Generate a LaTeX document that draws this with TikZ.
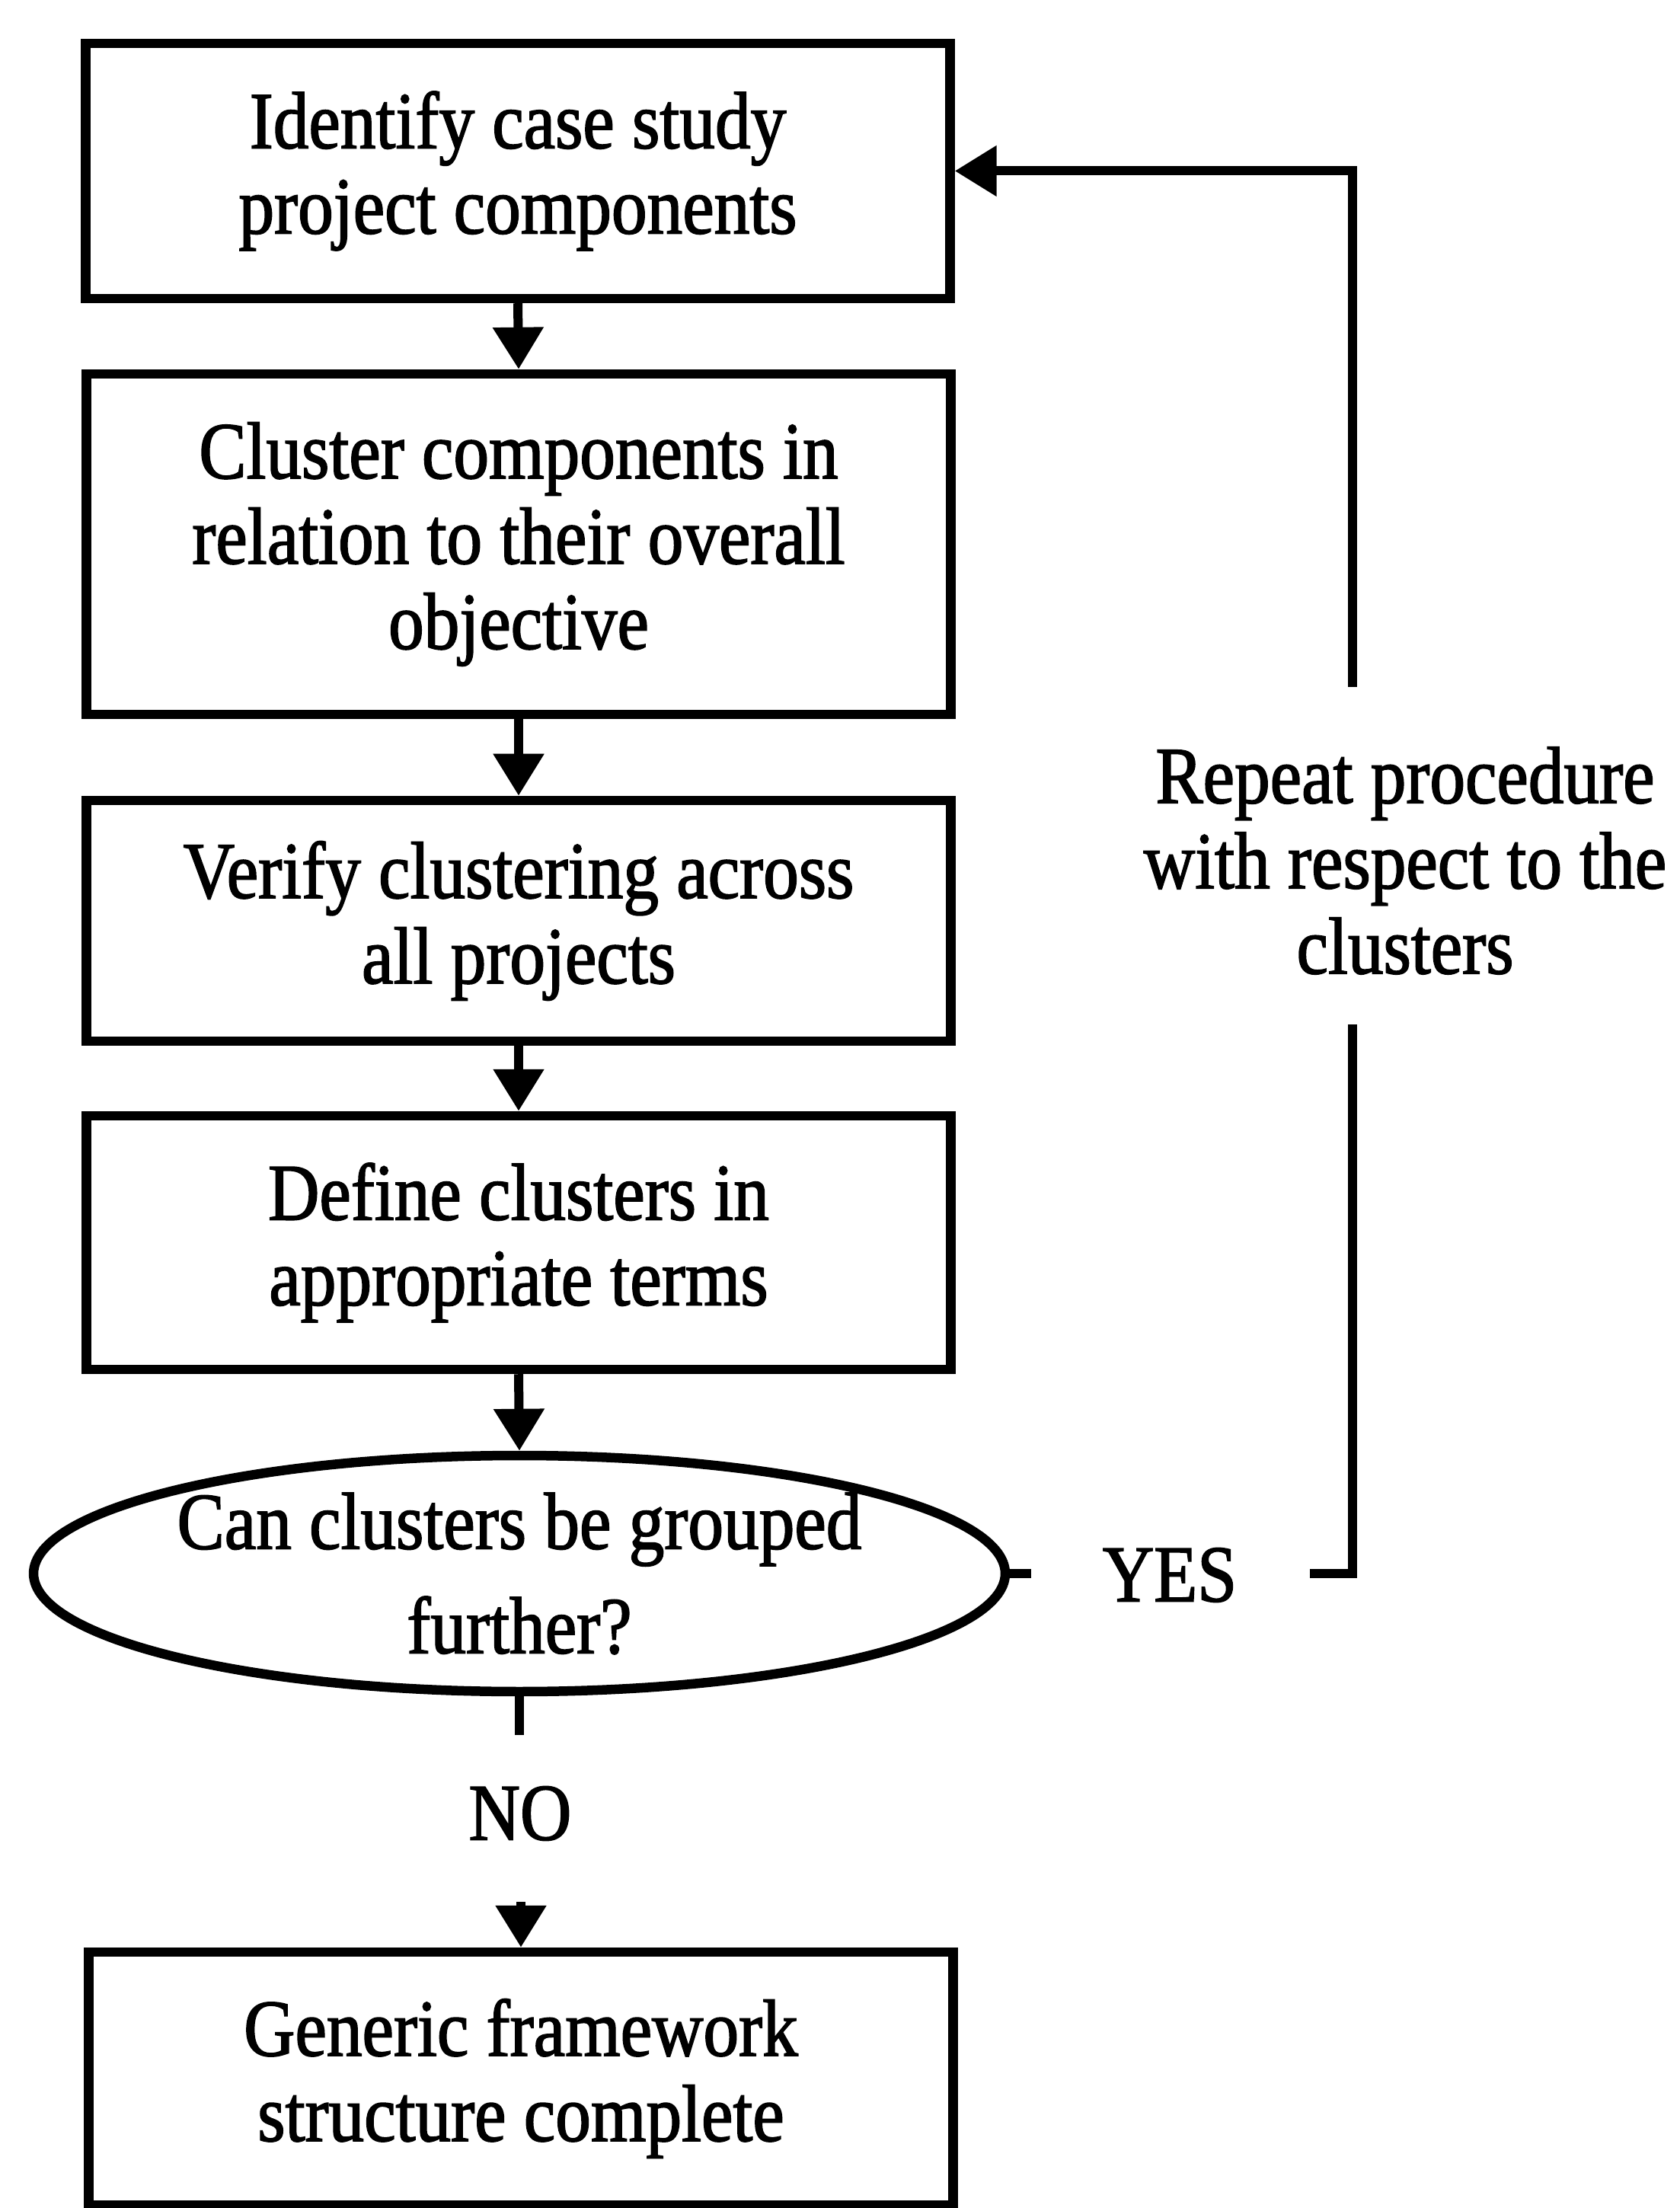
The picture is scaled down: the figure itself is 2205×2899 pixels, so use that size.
\documentclass[tikz,border=0pt]{standalone}
\usepackage{fontspec}
\setmainfont{Liberation Serif}[FakeStretch=0.88,FakeBold=1.6]
\usetikzlibrary{arrows.meta,shapes.geometric}

\begin{document}
\begin{tikzpicture}[x=0.1pt,y=-0.1pt,
  every node/.style={font=\fontsize{10.6pt}{11.2pt}\selectfont, align=center, inner sep=0pt},
  stepbox/.style={draw, line width=1.25pt, rectangle, minimum width=113.5pt},
  decision/.style={draw, line width=1.25pt, ellipse, minimum width=127.6pt, minimum height=31pt},
  link/.style={line width=1.2pt},
  flow/.style={link, -{Triangle[length=5.5pt,width=6.4pt]}}
]
\useasboundingbox (0,0) rectangle (2205,2899);

% process steps
\node[stepbox, minimum height=33.5pt] (b1) at (680,224.5) {Identify case study\\project components};
\node[stepbox, minimum height=44.7pt] (b2) at (681,714.5) {Cluster components in\\relation to their overall\\objective};
\node[stepbox, minimum height=31.6pt] (b3) at (681,1209) {Verify clustering across\\all projects};
\node[stepbox, minimum height=33.3pt] (b4) at (681,1631.5) {Define clusters in\\appropriate terms};

% decision
\node[decision] (dec) at (682,2066) {};
\node[font=\fontsize{10.6pt}{13.7pt}\selectfont] (dectext) at (682,2066) {Can clusters be grouped\\further?};

% final step
\node[stepbox, minimum height=33.2pt] (b5) at (684,2729) {Generic framework\\structure complete};

% forward arrows
\draw[flow] (b1.south) -- (b2.north);
\draw[flow] (b2.south) -- (b3.north);
\draw[flow] (b3.south) -- (b4.north);
\draw[flow] (b4.south) -- (dec.north);

% NO branch
\coordinate (nostub) at (682,2278);
\coordinate (noarrow) at (684,2497);
\node (no) at (683,2381) {NO};
\draw[link] (dec.south) -- (nostub);
\draw[flow] (noarrow) -- (b5.north);

% YES branch, back to the first step
\coordinate (yesstub) at (1354,2066);
\coordinate (yesR) at (1720,2066);
\coordinate (loopB) at (1776,2066);
\coordinate (gapB) at (1776,1345);
\coordinate (gapT) at (1776,902);
\node (yes) at (1536,2068) {YES};
\node (repeat) at (1845,1130) {Repeat procedure\\with respect to the\\clusters};
\draw[link] (dec.east) -- (yesstub);
\draw[link] (yesR) -- (loopB) -- (gapB);
\draw[flow] (gapT) |- (b1.east);
\end{tikzpicture}
\end{document}
